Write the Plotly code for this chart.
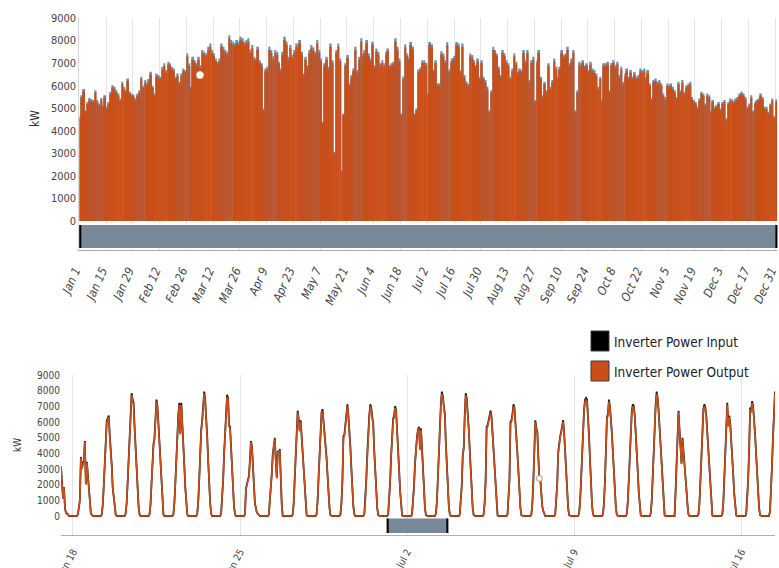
import pandas as pd
import plotly.graph_objects as go

W, H = 779, 568

# ---------------------------------------------------------------------------
# Daily peak inverter power for 2018 (kW) - DC input side
# ---------------------------------------------------------------------------
peak_in_jan = [4650, 5580, 5850, 4910, 5280, 5450, 5400, 5360, 5800, 5360, 5210, 5450, 5140, 5580, 5060, 5280,
               5730, 6020, 5950, 5800, 5650, 5430, 6170, 5950, 5800, 6320, 5730, 5650, 5600, 5430, 5650]
peak_in_feb = [5800, 6400, 6000, 6250, 6100, 6300, 6620, 6000, 5650, 6540, 6470, 6400, 6840, 6990, 6700, 7060,
               6990, 6840, 6760, 6400, 6540, 6170, 6540, 6760, 6700, 7430, 6990, 5950]
peak_in_mar = [7280, 7130, 6990, 7280, 6900, 7580, 7500, 7430, 7720, 7870, 7580, 7430, 7200, 7060, 7200, 7870,
               7720, 7580, 7500, 8240, 8020, 7950, 7870, 8020, 7950, 8170, 8100, 7950, 8020, 8100, 7600]
peak_in_apr = [7800, 7280, 7200, 7720, 7130, 6990, 4990, 6760, 6840, 7720, 7580, 7300, 7580, 7500, 7060, 6760,
               7500, 8170, 7950, 7280, 7800, 7360, 7580, 7870, 7870, 8020, 7500, 6540, 7280, 6910]
peak_in_may = [7580, 7800, 7700, 7500, 8020, 7580, 7200, 4400, 6990, 7280, 6840, 7870, 7130, 3070, 7580, 7870,
               7200, 2250, 4770, 6990, 7360, 6100, 6470, 6760, 7720, 6690, 7280, 8100, 7430, 7580, 8020]
peak_in_jun = [7430, 7200, 7950, 6910, 7650, 7500, 6990, 7130, 6990, 7500, 7650, 6910, 6990, 7060, 8100, 7720,
               7200, 4780, 6410, 7840, 7430, 7230, 7940, 7740, 4780, 4990, 6720, 6820, 7130, 7130]
peak_in_jul = [7020, 5700, 7940, 7840, 6720, 7130, 6110, 6110, 7530, 7430, 7130, 7940, 6720, 7130, 7230, 7330,
               7940, 7870, 6690, 7870, 6470, 6200, 6100, 7430, 7360, 7130, 6910, 7200, 6400, 7130, 6400]
peak_in_aug = [6250, 5950, 4910, 5800, 7720, 7580, 7430, 6840, 6470, 7580, 7430, 7130, 6990, 6400, 6760, 7430,
               7060, 6600, 6760, 6690, 7580, 7130, 7580, 6250, 7130, 7280, 5360, 7130, 7580, 6400, 5580]
peak_in_sep = [6170, 5800, 6990, 5950, 6250, 7200, 6840, 6400, 6840, 7580, 7360, 7430, 7720, 6990, 7200, 7580,
               4910, 5800, 7060, 6990, 7130, 6910, 6990, 6700, 7060, 6760, 6690, 6540, 5950, 6400]
peak_in_oct = [5400, 6990, 6990, 7060, 5800, 7000, 7130, 6910, 7060, 6470, 6840, 6170, 6540, 6760, 6400, 6690,
               6400, 6620, 6400, 6470, 6760, 6690, 6760, 6400, 6690, 6100, 5450, 6250, 6320, 6170, 6250]
peak_in_nov = [6100, 5650, 5500, 6100, 6020, 6100, 5950, 5800, 5500, 6170, 5800, 6250, 5730, 6020, 6100, 6170,
               5500, 5360, 5280, 5060, 5430, 5730, 5650, 5210, 5650, 5580, 4910, 5360, 5060, 5140]
peak_in_dec = [5280, 4990, 5280, 5360, 4550, 5280, 5430, 5400, 5300, 5430, 5500, 5650, 5730, 5650, 5500, 5060,
               5210, 5580, 4910, 5280, 5360, 5430, 5650, 5500, 5060, 5060, 4840, 5210, 5430, 4650, 5400]

# Daily peak inverter power for 2018 (kW) - AC output side
peak_out_jan = [4570, 5480, 5750, 4820, 5190, 5350, 5300, 5270, 5700, 5270, 5120, 5350, 5050, 5480, 4970, 5190,
                5630, 5910, 5840, 5700, 5550, 5330, 6060, 5840, 5700, 6210, 5630, 5550, 5500, 5330, 5550]
peak_out_feb = [5700, 6290, 5890, 6140, 5990, 6190, 6500, 5890, 5550, 6420, 6360, 6290, 6720, 6870, 6580, 6940,
                6870, 6720, 6640, 6290, 6420, 6060, 6420, 6640, 6580, 7300, 6870, 5840]
peak_out_mar = [7150, 7000, 6870, 7150, 6780, 7450, 7370, 7300, 7580, 7730, 7450, 7300, 7070, 6940, 7070, 7730,
                7580, 7450, 7370, 8090, 7880, 7810, 7730, 7880, 7810, 8030, 7960, 7810, 7880, 7960, 7470]
peak_out_apr = [7660, 7150, 7070, 7580, 7000, 6870, 4900, 6640, 6720, 7580, 7450, 7170, 7450, 7370, 6940, 6640,
                7370, 8030, 7810, 7150, 7660, 7230, 7450, 7730, 7730, 7880, 7370, 6420, 7150, 6790]
peak_out_may = [7450, 7660, 7560, 7370, 7880, 7450, 7070, 4320, 6870, 7150, 6720, 7730, 7000, 3020, 7450, 7730,
                7070, 2210, 4690, 6870, 7230, 5990, 6360, 6640, 7580, 6570, 7150, 7960, 7300, 7450, 7880]
peak_out_jun = [7300, 7070, 7810, 6790, 7510, 7370, 6870, 7000, 6870, 7370, 7510, 6790, 6870, 6940, 7960, 7580,
                7070, 4700, 6300, 7700, 7300, 7100, 7800, 7600, 4700, 4900, 6600, 6700, 7000, 7000]
peak_out_jul = [6900, 5600, 7800, 7700, 6600, 7000, 6000, 6000, 7400, 7300, 7000, 7800, 6600, 7000, 7100, 7200,
                7800, 7730, 6570, 7730, 6360, 6090, 5990, 7300, 7230, 7000, 6790, 7070, 6290, 7000, 6290]
peak_out_aug = [6140, 5840, 4820, 5700, 7580, 7450, 7300, 6720, 6360, 7450, 7300, 7000, 6870, 6290, 6640, 7300,
                6940, 6480, 6640, 6570, 7450, 7000, 7450, 6140, 7000, 7150, 5270, 7000, 7450, 6290, 5480]
peak_out_sep = [6060, 5700, 6870, 5840, 6140, 7070, 6720, 6290, 6720, 7450, 7230, 7300, 7580, 6870, 7070, 7450,
                4820, 5700, 6940, 6870, 7000, 6790, 6870, 6580, 6940, 6640, 6570, 6420, 5840, 6290]
peak_out_oct = [5300, 6870, 6870, 6940, 5700, 6880, 7000, 6790, 6940, 6360, 6720, 6060, 6420, 6640, 6290, 6570,
                6290, 6500, 6290, 6360, 6640, 6570, 6640, 6290, 6570, 5990, 5350, 6140, 6210, 6060, 6140]
peak_out_nov = [5990, 5550, 5400, 5990, 5910, 5990, 5840, 5700, 5400, 6060, 5700, 6140, 5630, 5910, 5990, 6060,
                5400, 5270, 5190, 4970, 5330, 5630, 5550, 5120, 5550, 5480, 4820, 5270, 4970, 5050]
peak_out_dec = [5190, 4900, 5190, 5270, 4470, 5190, 5330, 5300, 5210, 5330, 5400, 5550, 5630, 5550, 5400, 4970,
                5120, 5480, 4820, 5190, 5270, 5330, 5550, 5400, 4970, 4970, 4750, 5120, 5330, 4570, 5300]

# ---------------------------------------------------------------------------
# Hourly inverter power (kW), Jun 17 - Jul 17. Each day lists 05:00..19:00,
# night hours are zero.
# ---------------------------------------------------------------------------
jun17_pm_in = [3160, 2040, 1120, 1830, 510, 200, 150, 120]          # 12:00..19:00
jun17_pm_out = [3100, 2000, 1100, 1800, 500, 200, 150, 120]

week1_in = [  # Jun 18 - Jun 24
    [100, 510, 1020, 3770, 3050, 3360, 3560, 4780, 2040, 3460, 2550, 1430, 610, 200, 50],
    [100, 710, 1930, 3560, 4890, 6110, 6210, 6410, 5190, 4380, 3260, 1830, 1320, 610, 100],
    [150, 810, 2140, 3870, 5290, 6410, 7840, 7430, 7230, 5700, 4380, 3160, 1730, 610, 100],
    [100, 710, 2040, 3770, 4580, 4990, 6310, 7430, 7020, 5900, 4680, 3360, 1930, 710, 100],
    [100, 810, 2140, 3870, 5400, 6520, 7230, 5290, 7230, 6110, 4680, 3260, 1830, 710, 100],
    [150, 920, 2340, 4070, 5500, 6110, 6920, 7940, 7430, 6410, 5090, 3560, 2040, 810, 150],
    [150, 920, 2240, 3970, 5600, 6920, 7740, 7530, 5800, 5700, 4280, 3050, 1730, 610, 100],
]
week1_out = [
    [100, 500, 1000, 3700, 3000, 3300, 3500, 4700, 2000, 3400, 2500, 1400, 600, 200, 50],
    [100, 700, 1900, 3500, 4800, 6000, 6100, 6300, 5100, 4300, 3200, 1800, 1300, 600, 100],
    [150, 800, 2100, 3800, 5200, 6300, 7700, 7300, 7100, 5600, 4300, 3100, 1700, 600, 100],
    [100, 700, 2000, 3700, 4500, 4900, 6200, 7300, 6900, 5800, 4600, 3300, 1900, 700, 100],
    [100, 800, 2100, 3800, 5300, 6400, 7100, 5200, 7100, 6000, 4600, 3200, 1800, 700, 100],
    [150, 900, 2300, 4000, 5400, 6000, 6800, 7800, 7300, 6300, 5000, 3500, 2000, 800, 150],
    [150, 900, 2200, 3900, 5500, 6800, 7600, 7400, 5700, 5600, 4200, 3000, 1700, 600, 100],
]
week2_in = [  # Jun 25 - Jul 1
    [100, 1730, 2040, 2440, 2550, 3560, 4780, 4480, 3050, 1530, 810, 510, 200, 150, 50],
    [100, 810, 1530, 2750, 3970, 4580, 4990, 3560, 2440, 4170, 3870, 4280, 2240, 710, 0],
    [100, 810, 2340, 4070, 5700, 6720, 6210, 5500, 6110, 5090, 3970, 2850, 1530, 510, 50],
    [100, 920, 2440, 4170, 5700, 6620, 6820, 6110, 5290, 4890, 3770, 2650, 1430, 510, 50],
    [100, 810, 2240, 5090, 5190, 5900, 6620, 7130, 6410, 5600, 4380, 3050, 1730, 610, 100],
    [100, 920, 2340, 3970, 5400, 6410, 7130, 6920, 6310, 5900, 4170, 2850, 1530, 510, 50],
    [100, 920, 2240, 3870, 5290, 6210, 6410, 7020, 6720, 5700, 4280, 2950, 1630, 610, 50],
]
week2_out = [
    [100, 1700, 2000, 2400, 2500, 3500, 4700, 4400, 3000, 1500, 800, 500, 200, 150, 50],
    [100, 800, 1500, 2700, 3900, 4500, 4900, 3500, 2400, 4100, 3800, 4200, 2200, 700, 0],
    [100, 800, 2300, 4000, 5600, 6600, 6100, 5400, 6000, 5000, 3900, 2800, 1500, 500, 50],
    [100, 900, 2400, 4100, 5600, 6500, 6700, 6000, 5200, 4800, 3700, 2600, 1400, 500, 50],
    [100, 800, 2200, 5000, 5100, 5800, 6500, 7000, 6300, 5500, 4300, 3000, 1700, 600, 100],
    [100, 900, 2300, 3900, 5300, 6300, 7000, 6800, 6200, 5800, 4100, 2800, 1500, 500, 50],
    [100, 900, 2200, 3800, 5200, 6100, 6300, 6900, 6600, 5600, 4200, 2900, 1600, 600, 50],
]
week3_in = [  # Jul 2 - Jul 8
    [100, 810, 1930, 3360, 4580, 5090, 5500, 5700, 4280, 5600, 4380, 3050, 1630, 510, 50],
    [150, 920, 2440, 4170, 5800, 7130, 7940, 7640, 7020, 6520, 4680, 3160, 1730, 610, 100],
    [100, 810, 1930, 3870, 4380, 6410, 7840, 7530, 6720, 5600, 4280, 2950, 1630, 510, 50],
    [100, 810, 2240, 5700, 5800, 6110, 6410, 6720, 6310, 5290, 4070, 2850, 1530, 510, 50],
    [100, 920, 2340, 6010, 6110, 6520, 7130, 6920, 6110, 5090, 3970, 2850, 1530, 510, 50],
    [100, 810, 2240, 4070, 6110, 5600, 5400, 3770, 2440, 2340, 1120, 610, 310, 100, 0],
    [100, 810, 2040, 4070, 4890, 5090, 5400, 5700, 6110, 5290, 4070, 2850, 1530, 510, 50],
]
week3_out = [
    [100, 800, 1900, 3300, 4500, 5000, 5400, 5600, 4200, 5500, 4300, 3000, 1600, 500, 50],
    [150, 900, 2400, 4100, 5700, 7000, 7800, 7500, 6900, 6400, 4600, 3100, 1700, 600, 100],
    [100, 800, 1900, 3800, 4300, 6300, 7700, 7400, 6600, 5500, 4200, 2900, 1600, 500, 50],
    [100, 800, 2200, 5600, 5700, 6000, 6300, 6600, 6200, 5200, 4000, 2800, 1500, 500, 50],
    [100, 900, 2300, 5900, 6000, 6400, 7000, 6800, 6000, 5000, 3900, 2800, 1500, 500, 50],
    [100, 800, 2200, 4000, 6000, 5500, 5300, 3700, 2400, 2300, 1100, 600, 300, 100, 0],
    [100, 800, 2000, 4000, 4800, 5000, 5300, 5600, 6000, 5200, 4000, 2800, 1500, 500, 50],
]
week4_in = [  # Jul 9 - Jul 15
    [150, 920, 2340, 4070, 5600, 6820, 7430, 7530, 7430, 6520, 5090, 3560, 1930, 710, 100],
    [100, 810, 2240, 3770, 6310, 6520, 7430, 7020, 6310, 5290, 4070, 2850, 1530, 510, 50],
    [150, 920, 2340, 4070, 5600, 6720, 7130, 7020, 6410, 5400, 4170, 2850, 1530, 510, 50],
    [150, 920, 2440, 4170, 5800, 7130, 7940, 7530, 6720, 5600, 4280, 2950, 1630, 610, 50],
    [0, 1530, 3560, 5090, 6720, 5500, 4580, 3360, 4990, 4280, 3560, 2650, 1630, 710, 100],
    [100, 810, 2240, 3970, 5600, 6820, 7130, 6920, 6310, 5290, 4070, 2850, 1530, 510, 50],
    [100, 810, 2340, 4280, 6110, 7230, 5800, 6410, 5900, 4990, 3870, 2650, 1430, 510, 50],
]
week4_out = [
    [150, 900, 2300, 4000, 5500, 6700, 7300, 7400, 7300, 6400, 5000, 3500, 1900, 700, 100],
    [100, 800, 2200, 3700, 6200, 6400, 7300, 6900, 6200, 5200, 4000, 2800, 1500, 500, 50],
    [150, 900, 2300, 4000, 5500, 6600, 7000, 6900, 6300, 5300, 4100, 2800, 1500, 500, 50],
    [150, 900, 2400, 4100, 5700, 7000, 7800, 7400, 6600, 5500, 4200, 2900, 1600, 600, 50],
    [0, 1500, 3500, 5000, 6600, 5400, 4500, 3300, 4900, 4200, 3500, 2600, 1600, 700, 100],
    [100, 800, 2200, 3900, 5500, 6700, 7000, 6800, 6200, 5200, 4000, 2800, 1500, 500, 50],
    [100, 800, 2300, 4200, 6000, 7100, 5700, 6300, 5800, 4900, 3800, 2600, 1400, 500, 50],
]
jul16_in = [100, 920, 2340, 4170, 6920, 6720, 7330, 7020, 6310, 5190, 3970, 2750, 1530, 510, 50]
jul16_out = [100, 900, 2300, 4100, 6800, 6600, 7200, 6900, 6200, 5100, 3900, 2700, 1500, 500, 50]
jul17_am_in = [310, 1530, 3260, 5090, 6720, 7940]                      # 05:00..10:00
jul17_am_out = [300, 1500, 3200, 5000, 6600, 7800]

# Highlighted (hovered) samples
hover_top_time, hover_top_kw = "2018-03-05 03:00", 6470
hover_detail_time = "2018-07-07 13:00"

year_ticks = pd.date_range("2018-01-01", periods=27, freq="14D")
detail_ticks = pd.date_range("2018-06-18", periods=5, freq="7D")
y_ticks = list(range(0, 9001, 1000))

LEGEND_LABELS = ["Inverter Power Input", "Inverter Power Output"]

# ---------------------------------------------------------------------------
ORANGE = "#C84E1A"
STEEL = "#6C8EAD"
SLATE = "#778899"
INK = "#1a1a1a"
FONT = "Liberation Sans Narrow, Arial Narrow, DejaVu Sans Condensed, sans-serif"


def px_x(x):
    return x / W


def px_y(y):
    return 1 - y / H


def hourly(first_day, days, first_hour=5, start_hour=0, end_hour=23):
    xs, ys = [], []
    for i, vals in enumerate(days):
        day = pd.Timestamp(first_day) + pd.Timedelta(days=i)
        for h in range(start_hour, end_hour + 1):
            k = h - first_hour
            xs.append(day + pd.Timedelta(hours=h))
            ys.append(vals[k] if 0 <= k < len(vals) else 0)
    return xs, ys


def detail_series(pm17, weeks, jul16, am17):
    xs, ys = hourly("2018-06-17", [pm17], first_hour=12, start_hour=12)
    full_days = [d for w in weeks for d in w] + [jul16]
    x2, y2 = hourly("2018-06-18", full_days)
    x3, y3 = hourly("2018-07-17", [am17], end_hour=10)
    return xs + x2 + x3, ys + y2 + y3


peak_in = (peak_in_jan + peak_in_feb + peak_in_mar + peak_in_apr + peak_in_may + peak_in_jun +
           peak_in_jul + peak_in_aug + peak_in_sep + peak_in_oct + peak_in_nov + peak_in_dec)
peak_out = (peak_out_jan + peak_out_feb + peak_out_mar + peak_out_apr + peak_out_may + peak_out_jun +
            peak_out_jul + peak_out_aug + peak_out_sep + peak_out_oct + peak_out_nov + peak_out_dec)
days = pd.date_range("2018-01-01 12:00", periods=len(peak_in), freq="D")

det_x, det_in = detail_series(jun17_pm_in, [week1_in, week2_in, week3_in, week4_in], jul16_in, jul17_am_in)
_, det_out = detail_series(jun17_pm_out, [week1_out, week2_out, week3_out, week4_out], jul16_out, jul17_am_out)
hover_idx = det_x.index(pd.Timestamp(hover_detail_time))

fig = go.Figure()

# Year overview: daily peaks
fig.add_trace(go.Bar(x=days, y=peak_in, marker=dict(color=STEEL, line_width=0),
                     xaxis="x", yaxis="y", name=LEGEND_LABELS[0], showlegend=False))
fig.add_trace(go.Bar(x=days, y=peak_out, marker=dict(color=ORANGE, line_width=0),
                     xaxis="x", yaxis="y", name=LEGEND_LABELS[1], showlegend=False))
fig.add_trace(go.Scatter(x=[hover_top_time], y=[hover_top_kw], mode="markers",
                         marker=dict(size=7, color="white", line=dict(color="#dddddd", width=1)),
                         xaxis="x", yaxis="y", showlegend=False))

# Detail window: hourly profile
fig.add_trace(go.Scatter(x=det_x, y=det_in, mode="lines", line=dict(color=INK, width=1.8),
                         xaxis="x2", yaxis="y2", name=LEGEND_LABELS[0], showlegend=False))
fig.add_trace(go.Scatter(x=det_x, y=det_out, mode="lines", line=dict(color=ORANGE, width=1.6),
                         xaxis="x2", yaxis="y2", name=LEGEND_LABELS[1], showlegend=False))
fig.add_trace(go.Scatter(x=[det_x[hover_idx]], y=[det_out[hover_idx]], mode="markers",
                         marker=dict(size=6, color="white", line=dict(color="#999999", width=1)),
                         xaxis="x2", yaxis="y2", showlegend=False))

tick_font = dict(family=FONT, size=11, color="#444444")

fig.update_layout(
    width=W, height=H,
    margin=dict(l=0, r=0, t=0, b=0),
    paper_bgcolor="white", plot_bgcolor="white",
    barmode="overlay", bargap=0.07,
    hovermode=False,
    font=dict(family=FONT, color="#333333"),
    xaxis=dict(
        domain=[px_x(79.3), px_x(777.2)], anchor="y",
        range=["2018-01-01", "2019-01-01"],
        tickmode="array", tickvals=year_ticks, tickformat="%b %-d",
        tickangle=-66, tickfont=dict(family=FONT, size=12, color="#444444", style="italic"),
        ticks="", ticklabelstandoff=8, ticklabelshift=-4, ticklabeloverflow="allow",
        showgrid=True, gridcolor="#e6e6e6", gridwidth=1,
        showline=True, linecolor="#a8a8a8", linewidth=1,
        zeroline=False, automargin=False,
    ),
    yaxis=dict(
        domain=[px_y(250), px_y(18)], anchor="x",
        range=[-1286, 9000],
        tickmode="array", tickvals=y_ticks, tickfont=tick_font,
        showgrid=False, zeroline=False,
        showline=True, linecolor="#d6d6d6", linewidth=1,
        ticks="", automargin=False,
    ),
    xaxis2=dict(
        domain=[px_x(61), px_x(775)], anchor="y2",
        range=[det_x[0], det_x[-1]],
        tickmode="array", tickvals=detail_ticks, tickformat="%b %-d",
        tickangle=-62, tickfont=dict(family=FONT, size=10, color="#444444"),
        ticks="", ticklabelstandoff=6, ticklabeloverflow="allow",
        showgrid=True, gridcolor="#e4e4e4", gridwidth=1,
        showline=True, linecolor="#b0b0b0", linewidth=1,
        zeroline=False, automargin=False,
    ),
    yaxis2=dict(
        domain=[px_y(535), px_y(375)], anchor="x2",
        range=[-1213, 9000],
        tickmode="array", tickvals=y_ticks, tickfont=dict(family=FONT, size=10, color="#444444"),
        showgrid=False, zeroline=False, showline=False,
        ticks="", automargin=False,
    ),
)

shapes = []
# Overview navigator bar under the year chart
shapes.append(dict(type="rect", xref="paper", yref="paper", layer="above",
                   x0=px_x(79.3), x1=px_x(777.2), y0=px_y(248), y1=px_y(225),
                   fillcolor=SLATE, line=dict(width=0)))
for x0 in (79.3, 775.4):
    shapes.append(dict(type="rect", xref="paper", yref="paper", layer="above",
                       x0=px_x(x0), x1=px_x(x0 + 2), y0=px_y(248), y1=px_y(225),
                       fillcolor="black", line=dict(width=0)))
# Navigator bar of the detail window
shapes.append(dict(type="rect", xref="paper", yref="paper", layer="above",
                   x0=px_x(386.7), x1=px_x(448.3), y0=px_y(533), y1=px_y(518.5),
                   fillcolor=SLATE, line=dict(width=0)))
for x0 in (386.7, 446.3):
    shapes.append(dict(type="rect", xref="paper", yref="paper", layer="above",
                       x0=px_x(x0), x1=px_x(x0 + 2), y0=px_y(533), y1=px_y(518.5),
                       fillcolor="black", line=dict(width=0)))
# Legend swatches
for (y_top, color) in ((331, "black"), (361, ORANGE)):
    shapes.append(dict(type="rect", xref="paper", yref="paper",
                       x0=px_x(591), x1=px_x(609), y0=px_y(y_top + 20), y1=px_y(y_top),
                       fillcolor=color, line=dict(color="#3a3a3a", width=1)))
fig.update_layout(shapes=shapes)

annotations = [
    dict(text="kW", x=px_x(35), y=px_y(119), xref="paper", yref="paper", textangle=-90,
         xanchor="center", yanchor="middle",
         showarrow=False, font=dict(family=FONT, size=12, color="#333333")),
    dict(text="kW", x=px_x(17), y=px_y(445), xref="paper", yref="paper", textangle=-90,
         xanchor="center", yanchor="middle",
         showarrow=False, font=dict(family=FONT, size=10, color="#333333")),
]
for label, yc in zip(LEGEND_LABELS, (342, 372)):
    annotations.append(dict(text=label, x=px_x(612), y=px_y(yc), xref="paper", yref="paper",
                            xanchor="left", yanchor="middle", showarrow=False,
                            font=dict(family=FONT, size=13.5, color="#222222")))
fig.update_layout(annotations=annotations)

fig.write_html("out.html")
